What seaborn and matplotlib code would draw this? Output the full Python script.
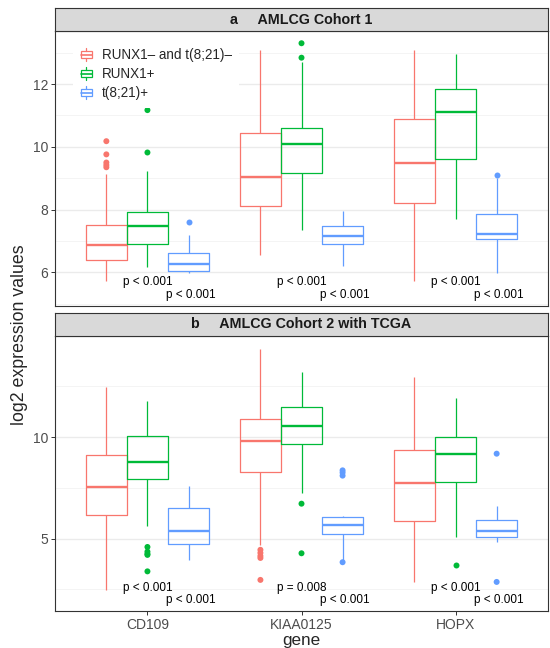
import numpy as np
import pandas as pd
import matplotlib
matplotlib.use("Agg")
import matplotlib.pyplot as plt
import seaborn as sns
from matplotlib.patches import Patch, Rectangle
from matplotlib.lines import Line2D
from matplotlib.legend_handler import HandlerBase
from matplotlib.ticker import MultipleLocator

genes = ["CD109", "KIAA0125", "HOPX"]
groups = ["RUNX1\u2013 and t(8;21)\u2013", "RUNX1+", "t(8;21)+"]
colors = ["#F8766D", "#00BA38", "#619CFF"]
titles = ["a     AMLCG Cohort 1", "b     AMLCG Cohort 2 with TCGA"]

# box summaries: whisker low, q1, median, q3, whisker high (per gene)
# cohort 1
c1_neg = [[5.73, 6.39, 6.86, 7.50, 9.13], [6.55, 8.10, 9.05, 10.43, 13.08], [5.73, 8.20, 9.49, 10.90, 13.10]]
c1_runx = [[6.18, 6.89, 7.49, 7.91, 9.24], [7.36, 9.18, 10.10, 10.61, 12.69], [7.71, 9.61, 11.11, 11.85, 12.95]]
c1_t821 = [[5.97, 6.04, 6.27, 6.61, 7.19], [6.21, 6.91, 7.16, 7.47, 7.95], [5.99, 7.06, 7.23, 7.87, 9.00]]
c1_neg_out = [[10.18, 9.76, 9.50, 9.42, 9.35], [], []]
c1_runx_out = [[9.82, 11.17], [12.84, 13.30], []]
c1_t821_out = [[7.60], [], [9.10]]

# cohort 2 with TCGA
c2_neg = [[2.47, 6.18, 7.54, 9.13, 12.44], [4.69, 8.28, 9.82, 10.90, 14.34], [2.88, 5.88, 7.74, 9.34, 12.95]]
c2_runx = [[5.64, 7.93, 8.75, 10.05, 11.77], [7.23, 9.64, 10.56, 11.48, 13.21], [5.10, 7.77, 9.15, 9.98, 11.92]]
c2_t821 = [[3.95, 4.72, 5.39, 6.52, 7.60], [3.95, 5.21, 5.67, 6.05, 6.10], [4.82, 5.07, 5.39, 5.93, 6.62]]
c2_neg_out = [[], [4.45, 4.30, 4.15, 4.05, 2.97], []]
c2_runx_out = [[4.59, 4.36, 4.25, 4.20, 3.39], [6.72, 4.28], [3.69]]
c2_t821_out = [[], [8.36, 8.25, 8.10, 3.84], [9.18, 2.87]]

# p-value labels (first row: vs RUNX1+, second row: vs t(8;21)+)
c1_p1 = ["p < 0.001", "p < 0.001", "p < 0.001"]
c1_p2 = ["p < 0.001", "p < 0.001", "p < 0.001"]
c2_p1 = ["p < 0.001", "p = 0.008", "p < 0.001"]
c2_p2 = ["p < 0.001", "p < 0.001", "p < 0.001"]
c1_p_y = [5.70, 5.28]
c2_p_y = [2.59, 1.98]

c1_ylim = (4.93, 13.69)
c2_ylim = (1.44, 14.97)


def long_table(stats, outs):
    rows, orows = [], []
    for grp, s_list, o_list in zip(groups, stats, outs):
        for gene, s, o in zip(genes, s_list, o_list):
            rows += [(gene, grp, v) for v in s]
            orows += [(gene, grp, v) for v in o]
    cols = ["gene", "group", "value"]
    return pd.DataFrame(rows, columns=cols), pd.DataFrame(orows, columns=cols)


class BoxKey(HandlerBase):
    # ggplot-like boxplot legend key
    def create_artists(self, legend, orig_handle, xdescent, ydescent, width, height, fontsize, trans):
        c = orig_handle.get_edgecolor()
        x0, y0 = -xdescent, -ydescent
        box = Rectangle((x0, y0 + 0.22 * height), width, 0.56 * height, facecolor="white",
                        edgecolor=c, lw=0.9, transform=trans)
        med = Line2D([x0, x0 + width], [y0 + 0.5 * height] * 2, color=c, lw=1.2, transform=trans)
        w1 = Line2D([x0 + width / 2] * 2, [y0, y0 + 0.22 * height], color=c, lw=0.9, transform=trans)
        w2 = Line2D([x0 + width / 2] * 2, [y0 + 0.78 * height, y0 + height], color=c, lw=0.9, transform=trans)
        return [box, med, w1, w2]


sns.set_style("white")
plt.rcParams["font.family"] = ["Liberation Sans", "DejaVu Sans"]

fig = plt.figure(figsize=(5.5, 6.48), dpi=100)
W, H = 550, 648

panels = [
    dict(stats=[c1_neg, c1_runx, c1_t821], outs=[c1_neg_out, c1_runx_out, c1_t821_out],
         p1=c1_p1, p2=c1_p2, py=c1_p_y, ylim=c1_ylim, major=2, minor=1, top=31, strip=8),
    dict(stats=[c2_neg, c2_runx, c2_t821], outs=[c2_neg_out, c2_runx_out, c2_t821_out],
         p1=c2_p1, p2=c2_p2, py=c2_p_y, ylim=c2_ylim, major=5, minor=2.5, top=336, strip=313),
]

left, right = 55, 548
ph = 275
axes = []
for i, p in enumerate(panels):
    ax = fig.add_axes([left / W, 1 - (p["top"] + ph) / H, (right - left) / W, ph / H])
    axes.append(ax)
    box_df, out_df = long_table(p["stats"], p["outs"])

    ax.set_axisbelow(True)
    ax.yaxis.set_major_locator(MultipleLocator(p["major"]))
    ax.yaxis.set_minor_locator(MultipleLocator(p["minor"]))
    ax.grid(True, which="major", color="#EBEBEB", lw=1.0)
    ax.grid(True, which="minor", axis="y", color="#F2F2F2", lw=0.6)

    sns.boxplot(data=box_df, x="gene", y="value", hue="group", order=genes, hue_order=groups,
                palette=colors, fill=False, width=0.8, whis=(0, 100), showcaps=False,
                showfliers=False, linewidth=0.9, medianprops={"linewidth": 1.7},
                legend=False, ax=ax)
    sns.stripplot(data=out_df, x="gene", y="value", hue="group", order=genes, hue_order=groups,
                  palette=colors, dodge=True, jitter=False, size=4.3, linewidth=0,
                  legend=False, ax=ax, zorder=3)

    for j in range(len(genes)):
        ax.text(j, p["py"][0], p["p1"][j], ha="center", va="center", fontsize=8.5, color="black")
        ax.text(j + 0.28, p["py"][1], p["p2"][j], ha="center", va="center", fontsize=8.5, color="black")

    ax.set_xlim(-0.6, 2.6)
    ax.set_ylim(*p["ylim"])
    ax.set_xlabel("")
    ax.set_ylabel("")
    for s in ax.spines.values():
        s.set_color("#333333")
        s.set_linewidth(0.8)
    ax.tick_params(axis="y", length=3, width=0.7, color="#333333", labelcolor="#4D4D4D",
                   labelsize=10, pad=2, left=True)
    ax.tick_params(axis="y", which="minor", length=0)
    if i == 0:
        ax.tick_params(axis="x", bottom=False, labelbottom=False)
    else:
        ax.tick_params(axis="x", length=3, width=0.7, color="#333333", labelcolor="#4D4D4D",
                       labelsize=10, pad=2, bottom=True)

    sax = fig.add_axes([left / W, 1 - p["top"] / H, (right - left) / W, (p["top"] - p["strip"]) / H])
    sax.set_facecolor("#D9D9D9")
    sax.set_xticks([])
    sax.set_yticks([])
    for s in sax.spines.values():
        s.set_color("#333333")
        s.set_linewidth(0.8)
    sax.text(0.5, 0.5, titles[i], ha="center", va="center", fontsize=10.3, fontweight="bold",
             color="#1A1A1A", transform=sax.transAxes)

handles = [Patch(edgecolor=c, facecolor="white") for c in colors]
leg = axes[0].legend(handles, groups, handler_map={Patch: BoxKey()}, loc="upper left",
                     bbox_to_anchor=(0.0365, 0.965), borderaxespad=0, frameon=True,
                     fancybox=False, framealpha=1, facecolor="white", edgecolor="none",
                     fontsize=9.75, handlelength=0.81, handleheight=1.1, handletextpad=0.74,
                     labelspacing=0.35, borderpad=0.57)
leg.set_zorder(5)

fig.text(20 / W, 1 - 335 / H, "log2 expression values", rotation=90, ha="center", va="center",
         fontsize=12.8)
fig.text((left + right) / 2 / W, 1 - 640 / H, "gene", ha="center", va="center", fontsize=12.3)

fig.savefig("out.png", dpi=100)
